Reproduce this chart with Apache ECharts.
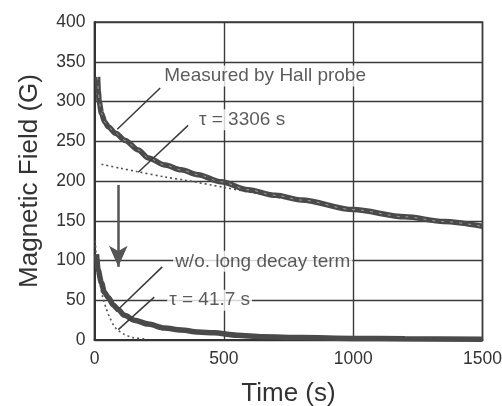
<!DOCTYPE html>
<html><head><meta charset="utf-8">
<script src="https://cdn.jsdelivr.net/npm/echarts@6/dist/echarts.min.js"></script>
<style>html,body{margin:0;padding:0;background:#fff}#c{width:502px;height:406px}</style>
</head><body><div id="c"></div>
<script>
// ---- data ----
const xRange = [0, 1500];
const yRange = [0, 400];
const measuredT = [12, 15, 18, 27, 40, 54, 81, 119, 169, 208, 273, 335, 400, 489, 593, 700, 800, 1000, 1200, 1350, 1500];
const measuredB = [331, 312, 300, 285, 274, 268, 260, 251, 239, 229, 220, 214, 208, 199, 189, 182, 176, 164, 155, 149, 143];
const longFitT = [27, 100, 162, 273, 350, 500, 700, 1000, 1200, 1500];
const longFitB = [221, 216, 212, 205, 201, 192, 180, 165, 155, 142];
const shortT = [8, 14, 27, 38, 54, 73, 92, 116, 154, 208, 270, 335, 400, 462, 550, 650, 800, 1000, 1200, 1500];
const shortB = [108, 88, 72, 60, 53, 44, 38, 31, 25, 20, 15, 12.6, 10, 9, 6, 4, 3, 2, 1.5, 1];
const shortFitT = [3, 10, 20, 33, 45, 58, 77, 92, 110, 130, 150, 200];
const shortFitB = [125, 92, 73, 52, 40, 29, 17, 12, 8, 5, 3, 1.2];
const labelTexts = ['Measured by Hall probe', 'τ = 3306 s', 'w/o. long decay term', 'τ = 41.7 s'];

const zip = (a, b) => a.map((v, i) => [v, b[i]]);
const FONT = 'Liberation Sans, Arial, Helvetica, sans-serif';
const INK = '#333';

// annotation anchors (data coordinates)
const annoAnchors = [[262, 332], [396, 277], [304, 99], [281, 50]];
const leaders = [
  [[88, 265], [254, 317]],
  [[169, 211], [362, 270]],
  [[96, 40], [262, 92]],
  [[92, 13], [231, 54]]
];

const chart = echarts.init(document.getElementById('c'), null, {renderer: 'canvas'});
chart.setOption({
  animation: false,
  backgroundColor: '#fff',
  grid: {left: 94.5, right: 19.5, top: 22, bottom: 66, show: true, borderColor: '#3a3a3a', borderWidth: 1.5,
         containLabel: false, outerBoundsMode: 'none'},
  xAxis: {
    type: 'value', min: xRange[0], max: xRange[1], interval: 500,
    name: 'Time (s)', nameLocation: 'middle', nameGap: 41,
    nameTextStyle: {fontFamily: FONT, fontSize: 26, color: INK},
    axisLine: {show: true, lineStyle: {color: '#333', width: 2}},
    axisTick: {show: false},
    axisLabel: {fontFamily: FONT, fontSize: 17.5, color: INK, margin: 10, formatter: v => String(v)},
    splitLine: {show: true, lineStyle: {color: '#3a3a3a', width: 1.4}}
  },
  yAxis: {
    type: 'value', min: yRange[0], max: yRange[1], interval: 50,
    name: 'Magnetic Field (G)', nameLocation: 'middle', nameGap: 52,
    nameTextStyle: {fontFamily: FONT, fontSize: 26, color: INK},
    axisLine: {show: true, lineStyle: {color: '#333', width: 2}},
    axisTick: {show: false},
    axisLabel: {fontFamily: FONT, fontSize: 17.5, color: INK, margin: 9, formatter: v => String(v)},
    splitLine: {show: true, lineStyle: {color: '#3a3a3a', width: 1.4}}
  },
  series: [
    {type: 'line', data: zip(longFitT, longFitB), showSymbol: false, silent: true, smooth: 0.3,
     lineStyle: {color: '#555', width: 1.6, type: [2, 3]}},
    {type: 'line', data: zip(shortFitT, shortFitB), showSymbol: false, silent: true, smooth: 0.3,
     lineStyle: {color: '#555', width: 1.6, type: [2, 3]}},
    {type: 'line', data: zip(measuredT, measuredB), showSymbol: false, silent: true, smooth: 0.3, smoothMonotone: 'x',
     lineStyle: {color: '#4a4a4a', width: 5.5}},
    {type: 'line', data: zip(measuredT, measuredB), showSymbol: false, silent: true, smooth: 0.3, smoothMonotone: 'x',
     lineStyle: {color: 'rgba(255,255,255,0.45)', width: 1, type: [3, 6]}},
    {type: 'line', data: zip(shortT, shortB), showSymbol: false, silent: true, smooth: 0.3, smoothMonotone: 'x',
     lineStyle: {color: '#4a4a4a', width: 5.5}},
    {type: 'scatter', symbolSize: 0, silent: true, z: 5,
     data: annoAnchors.map((p, i) => [p[0], p[1], labelTexts[i]]),
     label: {show: true, position: 'right', distance: 0, formatter: p => p.value[2],
             fontFamily: FONT, fontSize: 19, color: INK, backgroundColor: '#fff', padding: [1, 2]},
     markLine: {
       silent: true, symbol: 'none', animation: false,
       label: {show: false},
       lineStyle: {color: '#3a3a3a', width: 1.5, type: 'solid'},
       data: leaders.map(l => [{coord: l[0]}, {coord: l[1]}]).concat([
         [{coord: [92, 195], symbol: 'none'},
          {coord: [92, 92], symbol: 'arrow', symbolSize: [14, 21], lineStyle: {width: 2.5, color: '#555'}}]
       ])
     }}
  ]
});
</script></body></html>
